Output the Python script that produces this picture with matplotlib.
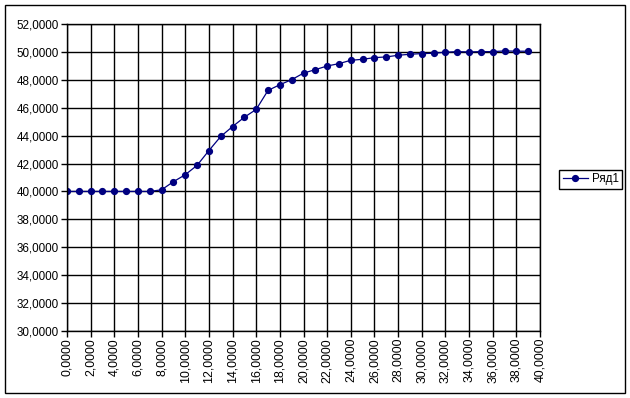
import matplotlib
matplotlib.use('Agg')
import matplotlib.pyplot as plt
from matplotlib.patches import Rectangle
from matplotlib.ticker import FuncFormatter, MultipleLocator

# data
x_vals = list(range(40))
y_vals = [40.00, 40.00, 40.00, 40.00, 40.00, 40.00, 40.00, 40.00,
          40.12, 40.70, 41.20, 41.87, 42.93, 43.94, 44.65, 45.32,
          45.88, 47.24, 47.65, 48.01, 48.48, 48.73, 48.99, 49.16,
          49.40, 49.47, 49.59, 49.64, 49.76, 49.83, 49.88, 49.90,
          49.98, 50.02, 50.00, 50.02, 50.02, 50.07, 50.05, 50.05]
series_name = 'Ряд1'

W, H = 630, 398
plt.rcParams['font.family'] = ['Liberation Sans', 'DejaVu Sans']
plt.rcParams['font.size'] = 8.4

fig = plt.figure(figsize=(W / 100, H / 100), dpi=100)
ax = fig.add_axes([67 / W, (H - 331) / H, (540 - 67) / W, (331 - 24) / H])

navy = '#000080'
ax.plot(x_vals, y_vals, color=navy, lw=0.9, marker='o', ms=4.2,
        markerfacecolor=navy, markeredgecolor=navy, label=series_name)

ax.set_xlim(0, 40)
ax.set_ylim(30, 52)
ax.xaxis.set_major_locator(MultipleLocator(2))
ax.yaxis.set_major_locator(MultipleLocator(2))
fmt = FuncFormatter(lambda v, p: ('%.4f' % v).replace('.', ','))
ax.xaxis.set_major_formatter(fmt)
ax.yaxis.set_major_formatter(fmt)
ax.grid(True, color='black', lw=1.0)
ax.set_axisbelow(True)
ax.tick_params(direction='out', length=4, width=1, color='black', pad=2)
ax.tick_params(axis='x', labelrotation=90, pad=1, labelsize=8.9)
for s in ax.spines.values():
    s.set_color('black')
    s.set_linewidth(1.0)

leg = fig.legend(loc='center left', bbox_to_anchor=(559 / W, (H - 179) / H),
                 frameon=True, fancybox=False, edgecolor='black', framealpha=1,
                 borderpad=0.3, handlelength=2.2, handletextpad=0.3,
                 borderaxespad=0)
leg.get_frame().set_linewidth(1.0)

fig.patches.append(Rectangle((5 / W, 5 / H), 620 / W, 388 / H, transform=fig.transFigure,
                             fill=False, edgecolor='black', lw=1.0))

fig.savefig('out.png', dpi=100)
